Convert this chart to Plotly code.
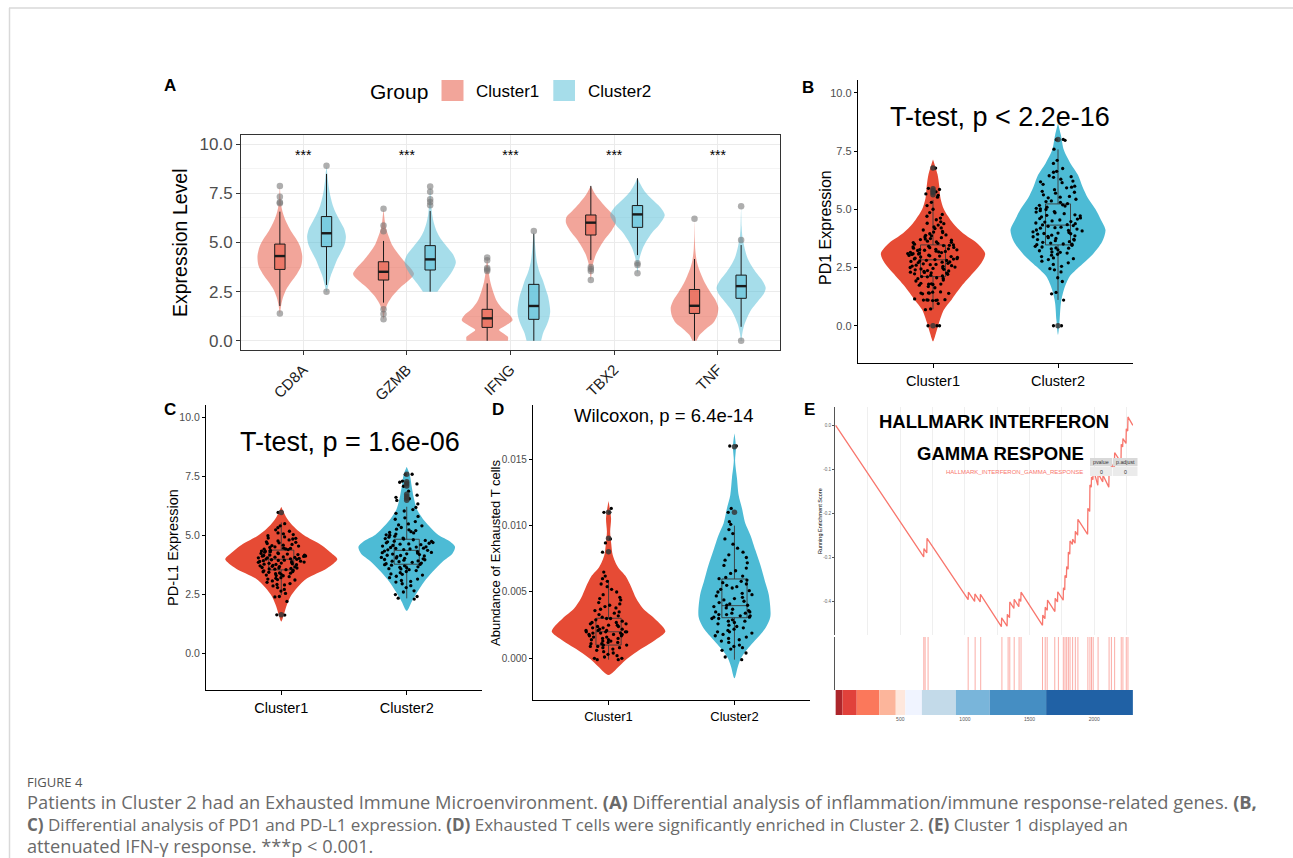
import plotly.graph_objects as go

W, H = 1293, 858
FONT = "Liberation Sans"

# ---------------- Panel A data ----------------
genes = ["CD8A", "GZMB", "IFNG", "TBX2", "TNF"]
clusters = ["Cluster1", "Cluster2"]

# violin density profiles (value levels, half-width in category units)
A_c1_prof_y = [
    [1.39, 1.8, 2.2, 2.6, 3.0, 3.4, 3.8, 4.3, 4.8, 5.2, 5.6, 6.0, 6.4, 6.8, 7.2, 7.88],
    [1.09, 1.5, 1.9, 2.3, 2.7, 3.1, 3.4, 3.7, 4.1, 4.5, 4.9, 5.3, 5.7, 6.1, 6.72],
    [0.0, 0.2, 0.4, 0.55, 0.75, 1.05, 1.3, 1.6, 2.0, 2.5, 3.0, 3.5, 4.24],
    [3.09, 3.6, 4.0, 4.4, 4.8, 5.2, 5.6, 6.0, 6.3, 6.6, 7.0, 7.4, 7.88],
    [0.0, 0.3, 0.6, 0.9, 1.3, 1.7, 2.1, 2.5, 2.9, 3.3, 3.7, 4.1, 4.6, 5.2, 6.21],
]
A_c1_prof_w = [
    [0.0, 0.012, 0.03, 0.06, 0.11, 0.165, 0.205, 0.216, 0.195, 0.155, 0.105, 0.065, 0.035, 0.016, 0.008, 0.0],
    [0.0, 0.012, 0.04, 0.09, 0.16, 0.25, 0.294, 0.26, 0.19, 0.13, 0.08, 0.05, 0.025, 0.012, 0.0],
    [0.2, 0.2, 0.15, 0.115, 0.17, 0.245, 0.22, 0.153, 0.095, 0.057, 0.03, 0.015, 0.0],
    [0.0, 0.01, 0.025, 0.05, 0.09, 0.14, 0.2, 0.24, 0.235, 0.18, 0.11, 0.05, 0.0],
    [0.02, 0.05, 0.11, 0.18, 0.22, 0.229, 0.2, 0.15, 0.105, 0.07, 0.04, 0.02, 0.008, 0.003, 0.0],
]
A_c2_prof_y = [
    [2.5, 2.9, 3.3, 3.7, 4.1, 4.5, 4.9, 5.3, 5.7, 6.1, 6.5, 6.9, 7.3, 7.7, 8.1, 8.5, 8.9],
    [2.5, 2.8, 3.2, 3.6, 4.0, 4.4, 4.8, 5.2, 5.6, 6.0, 6.4, 6.8, 7.3, 7.85],
    [0.0, 0.4, 0.8, 1.2, 1.5, 1.9, 2.3, 2.7, 3.1, 3.5, 4.0, 4.5, 5.0, 5.59],
    [3.43, 3.9, 4.3, 4.7, 5.1, 5.5, 5.9, 6.4, 6.8, 7.2, 7.6, 8.0, 8.3],
    [0.0, 0.4, 0.8, 1.2, 1.6, 2.0, 2.4, 2.7, 3.1, 3.5, 3.9, 4.3, 4.8, 5.3, 5.8, 6.84],
]
A_c2_prof_w = [
    [0.0, 0.02, 0.04, 0.07, 0.1, 0.14, 0.175, 0.187, 0.17, 0.13, 0.09, 0.06, 0.04, 0.025, 0.015, 0.008, 0.0],
    [0.07, 0.11, 0.17, 0.22, 0.248, 0.22, 0.16, 0.1, 0.06, 0.035, 0.02, 0.012, 0.006, 0.0],
    [0.07, 0.09, 0.125, 0.15, 0.158, 0.15, 0.135, 0.11, 0.085, 0.055, 0.03, 0.018, 0.01, 0.0],
    [0.0, 0.01, 0.025, 0.05, 0.09, 0.14, 0.21, 0.263, 0.22, 0.14, 0.07, 0.025, 0.0],
    [0.003, 0.012, 0.03, 0.06, 0.1, 0.16, 0.22, 0.237, 0.2, 0.14, 0.09, 0.055, 0.03, 0.012, 0.005, 0.0],
]
# box statistics
A_c1_q1 = [3.63, 3.09, 0.68, 5.38, 1.39]
A_c1_med = [4.31, 3.51, 1.14, 6.01, 1.78]
A_c1_q3 = [4.92, 4.02, 1.60, 6.40, 2.61]
A_c1_lo = [1.77, 1.94, 0.0, 4.11, 0.0]
A_c1_hi = [6.57, 5.08, 2.92, 7.88, 4.16]
A_c2_q1 = [4.79, 3.60, 1.09, 5.77, 2.16]
A_c2_med = [5.47, 4.14, 1.77, 6.43, 2.78]
A_c2_q3 = [6.32, 4.84, 2.87, 6.88, 3.34]
A_c2_lo = [2.84, 2.50, 0.0, 4.36, 0.71]
A_c2_hi = [8.49, 6.60, 5.45, 8.27, 4.87]
A_c1_out = [[1.39, 7.0, 7.05, 7.33, 7.88], [1.09, 1.36, 1.6, 5.57, 5.87, 6.72],
            [3.55, 3.62, 3.7, 4.1, 4.24], [3.09, 3.55, 3.65, 3.75], [6.21]]
A_c2_out = [[2.5, 8.9], [6.9, 7.06, 7.2, 7.58, 7.85], [5.59], [3.43, 3.85, 3.95], [0.0, 5.13, 6.84]]
A_sig_y = [9.37, 9.37, 9.37, 9.37, 9.37]
A_sig = ["***", "***", "***", "***", "***"]

# ---------------- Panels B, C, D data ----------------
B_c1_prof_y = [-0.67, -0.31, 0.11, 0.69, 1.11, 1.69, 2.26, 2.69, 3.1, 3.54, 3.97, 4.4, 5.0, 5.47, 6.0, 6.5, 7.14]
B_c1_prof_w = [0, 0.024, 0.047, 0.087, 0.147, 0.227, 0.32, 0.387, 0.417, 0.353, 0.24, 0.16, 0.087, 0.06, 0.05, 0.036, 0]
B_c2_prof_y = [-0.39, 0.26, 0.97, 1.54, 2.11, 2.54, 3.04, 3.61, 4.11, 4.54, 5.0, 5.47, 5.97, 6.47, 6.97, 7.54, 8.19, 8.69]
B_c2_prof_w = [0, 0.013, 0.023, 0.047, 0.093, 0.173, 0.273, 0.353, 0.38, 0.344, 0.3, 0.24, 0.196, 0.16, 0.1, 0.047, 0.023, 0]
B_box = dict(q1=[2.11, 3.47], med=[2.83, 4.32], q3=[3.47, 5.23], lo=[0.71, 1.11], hi=[5.40, 7.57])
B_c1_out = [0.0, 5.62, 5.72, 5.8, 5.88, 6.77]
B_c2_out = [0.0, 8.0]
B_c1 = [0.0, 0.0, 0.0, 0.69, 0.72, 0.95, 1.08, 1.1, 1.1, 1.11, 1.09, 1.12, 1.1, 1.37, 1.4, 1.41, 1.39, 1.44, 1.4,
        1.63, 1.68, 1.74, 1.77, 1.79, 1.8, 1.78, 1.92, 1.96, 2.03, 2.06, 2.1, 2.11, 2.14, 2.17, 2.21, 2.23, 2.27,
        2.29, 2.3, 2.33, 2.37, 2.4, 2.42, 2.44, 2.48, 2.5, 2.52, 2.56, 2.58, 2.6, 2.63, 2.66, 2.68, 2.71, 2.73,
        2.76, 2.78, 2.8, 2.81, 2.84, 2.86, 2.88, 2.9, 2.93, 2.95, 2.97, 3.0, 3.02, 3.03, 3.06, 3.08, 3.1, 3.12,
        3.14, 3.17, 3.19, 3.2, 3.23, 3.26, 3.28, 3.3, 3.33, 3.35, 3.38, 3.41, 3.44, 3.47, 3.5, 3.54, 3.57, 3.6,
        3.63, 3.67, 3.7, 3.74, 3.78, 3.81, 3.86, 3.9, 3.95, 4.0, 4.05, 4.11, 4.17, 4.24, 4.32, 4.4, 4.46, 4.55,
        4.62, 4.7, 4.86, 5.0, 5.16, 5.3, 5.52, 5.6, 5.66, 5.75, 5.85, 5.9, 6.77,
        1.15, 1.45, 1.82, 2.02, 2.26, 2.46, 2.62, 2.74, 2.87, 2.99, 3.09, 3.15, 3.24, 3.36, 3.45, 3.58, 3.72,
        3.88, 4.02, 4.2, 4.38, 4.78, 2.35, 2.55, 3.27]
B_c2 = [0.0, 0.0, 1.1, 1.37, 1.43, 1.9, 2.06, 2.31, 2.4, 2.55, 2.63, 2.7, 2.77, 2.84, 2.91, 2.97, 3.03, 3.07,
        3.12, 3.17, 3.22, 3.26, 3.3, 3.34, 3.38, 3.41, 3.45, 3.48, 3.51, 3.55, 3.58, 3.61, 3.65, 3.68, 3.71,
        3.75, 3.78, 3.82, 3.86, 3.89, 3.93, 3.96, 4.0, 4.03, 4.07, 4.11, 4.15, 4.19, 4.23, 4.27, 4.3, 4.34,
        4.38, 4.41, 4.45, 4.5, 4.54, 4.58, 4.63, 4.67, 4.72, 4.76, 4.81, 4.85, 4.9, 4.94, 4.99, 5.04, 5.09,
        5.14, 5.19, 5.24, 5.3, 5.36, 5.43, 5.49, 5.55, 5.62, 5.69, 5.77, 5.84, 5.92, 5.99, 6.07, 6.14, 6.21,
        6.29, 6.37, 6.44, 6.59, 6.75, 6.97, 7.1, 7.58, 7.96, 7.99, 8.0,
        2.45, 2.88, 3.15, 3.33, 3.5, 3.7, 3.84, 3.98, 4.09, 4.21, 4.33, 4.47, 4.6, 4.74, 4.88, 5.02, 5.17,
        5.33, 5.52, 5.73, 5.95, 6.18, 6.4, 6.63, 3.95]

C_c1_prof_y = [1.34, 1.63, 1.98, 2.4, 2.78, 3.18, 3.61, 3.99, 4.17, 4.6, 5.02, 5.45, 5.8, 6.22]
C_c1_prof_w = [0, 0.02, 0.04, 0.073, 0.126, 0.206, 0.365, 0.447, 0.418, 0.318, 0.179, 0.086, 0.037, 0]
C_c2_prof_y = [1.8, 2.19, 2.61, 3.04, 3.46, 3.89, 4.24, 4.52, 4.75, 5.02, 5.59, 6.08, 6.58, 7.07, 7.57, 7.92]
C_c2_prof_w = [0, 0.04, 0.086, 0.139, 0.206, 0.285, 0.365, 0.385, 0.345, 0.252, 0.146, 0.084, 0.057, 0.04, 0.025, 0]
C_box = dict(q1=[3.54, 3.78], med=[3.99, 4.37], q3=[4.38, 4.84], lo=[2.47, 2.33], hi=[5.55, 6.22])
C_c1_out = [1.63, 5.98]
C_c2_out = [6.5, 6.58, 6.65, 6.75, 7.1, 7.2, 7.28, 7.6]
C_c1 = [1.62, 1.63, 2.2, 2.39, 2.41, 2.54, 2.64, 2.71, 2.79, 2.86, 2.92, 2.96, 3.01, 3.07, 3.11, 3.15, 3.18,
        3.21, 3.25, 3.29, 3.32, 3.35, 3.38, 3.41, 3.44, 3.47, 3.5, 3.52, 3.55, 3.57, 3.6, 3.62, 3.64, 3.67,
        3.69, 3.71, 3.73, 3.76, 3.78, 3.8, 3.82, 3.83, 3.85, 3.87, 3.89, 3.91, 3.93, 3.95, 3.97, 3.99, 4.01,
        4.03, 4.05, 4.07, 4.09, 4.11, 4.13, 4.15, 4.17, 4.19, 4.21, 4.24, 4.26, 4.29, 4.31, 4.34, 4.37, 4.4,
        4.43, 4.46, 4.49, 4.52, 4.55, 4.59, 4.62, 4.66, 4.69, 4.73, 4.77, 4.81, 4.85, 4.89, 4.94, 4.99, 5.04,
        5.11, 5.18, 5.24, 5.33, 5.41, 5.5, 5.98,
        2.9, 3.13, 3.3, 3.46, 3.58, 3.68, 3.77, 3.86, 3.94, 4.0, 4.08, 4.16, 4.23, 4.33, 4.42, 4.57, 4.71,
        4.88, 5.07, 3.62, 3.9, 4.12, 4.45, 3.4, 4.05]
C_c2 = [2.3, 2.34, 2.41, 2.49, 2.65, 2.79, 2.87, 2.95, 3.02, 3.09, 3.15, 3.21, 3.27, 3.32, 3.37, 3.42, 3.47,
        3.51, 3.55, 3.59, 3.63, 3.67, 3.71, 3.74, 3.77, 3.8, 3.83, 3.86, 3.89, 3.92, 3.95, 3.98, 4.01, 4.04,
        4.07, 4.1, 4.13, 4.16, 4.19, 4.22, 4.25, 4.28, 4.31, 4.34, 4.37, 4.4, 4.43, 4.46, 4.49, 4.52, 4.55,
        4.58, 4.61, 4.64, 4.67, 4.7, 4.73, 4.76, 4.79, 4.82, 4.85, 4.89, 4.93, 4.97, 5.01, 5.06, 5.11, 5.16,
        5.21, 5.27, 5.34, 5.41, 5.49, 5.59, 5.69, 5.81, 5.94, 6.04, 6.19, 6.34, 6.49, 6.56, 6.62, 6.71, 6.88,
        7.09, 7.19, 7.26, 7.31, 7.59, 7.6,
        2.6, 3.05, 3.35, 3.58, 3.76, 3.91, 4.03, 4.15, 4.27, 4.39, 4.51, 4.63, 4.75, 4.87, 5.03, 5.24, 5.45,
        5.75, 6.1, 4.21, 4.45, 3.97, 4.69, 3.65, 5.13]

D_c1_prof_y = [-0.00126, -0.00063, 0.0, 0.0005, 0.00138, 0.002, 0.00238, 0.00301, 0.00377, 0.00452, 0.0054,
               0.00615, 0.0069, 0.00779, 0.00867, 0.00954, 0.01055, 0.01186]
D_c1_prof_w = [0, 0.08, 0.153, 0.225, 0.371, 0.451, 0.431, 0.365, 0.272, 0.219, 0.179, 0.139, 0.073, 0.033,
               0.021, 0.013, 0.02, 0]
D_c2_prof_y = [-0.00151, -0.00063, 0.0, 0.0005, 0.00138, 0.00226, 0.00314, 0.00477, 0.00577, 0.00703, 0.00816,
               0.0093, 0.01018, 0.0113, 0.01231, 0.01357, 0.0149, 0.01595, 0.01696]
D_c2_prof_w = [0, 0.027, 0.052, 0.086, 0.166, 0.245, 0.285, 0.273, 0.243, 0.206, 0.166, 0.126, 0.086, 0.06,
               0.033, 0.02, 0.005, 0.012, 0]
D_box = dict(q1=[0.001, 0.00306], med=[0.002, 0.00397], q3=[0.00302, 0.00598], lo=[-0.0001, -0.0001],
             hi=[0.0059, 0.0100])
D_c1_out = [0.00804, 0.00905, 0.011]
D_c2_out = [0.011, 0.01595]
D_c1 = [-0.0001, -0.0001, 0.0, 0.0, 0.0001, 0.0002, 0.0003, 0.0004, 0.0005, 0.0006, 0.0007, 0.0008, 0.0008,
        0.0009, 0.0009, 0.001, 0.001, 0.0011, 0.0011, 0.0012, 0.0012, 0.0013, 0.0013, 0.0014, 0.0014, 0.0015,
        0.0015, 0.0016, 0.0016, 0.0017, 0.0017, 0.0018, 0.0018, 0.0018, 0.0019, 0.0019, 0.0019, 0.002, 0.002,
        0.002, 0.002, 0.0021, 0.0021, 0.0021, 0.0022, 0.0022, 0.0023, 0.0023, 0.0024, 0.0024, 0.0025, 0.0025,
        0.0026, 0.0026, 0.0027, 0.0027, 0.0028, 0.0029, 0.003, 0.003, 0.0031, 0.0032, 0.0033, 0.0034, 0.0035,
        0.0036, 0.0037, 0.0038, 0.0039, 0.004, 0.0041, 0.0042, 0.0044, 0.0045, 0.0046, 0.0048, 0.005, 0.0052,
        0.0054, 0.0056, 0.0058, 0.006, 0.0062, 0.0065, 0.008, 0.0087, 0.009, 0.011, 0.011, 0.0113]
D_c2 = [-0.0001, 0.0001, 0.0004, 0.0006, 0.0007, 0.0008, 0.0009, 0.001, 0.0012, 0.0013, 0.0014, 0.0015, 0.0016,
        0.0017, 0.0018, 0.0019, 0.002, 0.002, 0.0021, 0.0022, 0.0023, 0.0024, 0.0025, 0.0026, 0.0027, 0.0028,
        0.0028, 0.0029, 0.003, 0.003, 0.0031, 0.0031, 0.0032, 0.0032, 0.0033, 0.0033, 0.0034, 0.0034, 0.0035,
        0.0035, 0.0036, 0.0037, 0.0038, 0.0039, 0.004, 0.004, 0.0041, 0.0042, 0.0043, 0.0044, 0.0045, 0.0046,
        0.0047, 0.0048, 0.0049, 0.005, 0.0051, 0.0052, 0.0053, 0.0054, 0.0055, 0.0056, 0.0057, 0.0058, 0.0059,
        0.006, 0.0061, 0.0062, 0.0064, 0.0066, 0.0068, 0.007, 0.0072, 0.0074, 0.0076, 0.0078, 0.008, 0.0083,
        0.0086, 0.009, 0.0094, 0.0097, 0.0101, 0.0103, 0.011, 0.0113, 0.016, 0.016]

# ---------------- Panel E data ----------------
ES_rank = [0, 681, 683, 705, 707, 1025, 1027, 1075, 1077, 1118, 1120, 1282, 1284, 1326, 1328, 1345, 1347,
           1379, 1381, 1417, 1419, 1432, 1434, 1600, 1602, 1619, 1621, 1637, 1639, 1696, 1698, 1716, 1718,
           1760, 1762, 1772, 1774, 1785, 1787, 1798, 1800, 1811, 1813, 1831, 1833, 1852, 1854, 1872, 1874,
           1949, 1951, 1965, 1967, 1977, 1979, 1990, 1992, 2028, 2030, 2066, 2068, 2113, 2115, 2131, 2133,
           2156, 2158, 2207, 2209, 2220, 2222, 2246, 2248, 2259, 2261, 2299]
ES_val = [0.0, -0.298, -0.279, -0.289, -0.256, -0.395, -0.378, -0.399, -0.382, -0.400, -0.383, -0.456, -0.436,
          -0.455, -0.428, -0.436, -0.400, -0.415, -0.394, -0.411, -0.393, -0.399, -0.378, -0.453, -0.430,
          -0.438, -0.412, -0.419, -0.396, -0.422, -0.392, -0.400, -0.377, -0.396, -0.368, -0.373, -0.340,
          -0.345, -0.320, -0.326, -0.287, -0.292, -0.262, -0.270, -0.258, -0.267, -0.240, -0.249, -0.213,
          -0.247, -0.188, -0.195, -0.135, -0.140, -0.117, -0.123, -0.098, -0.136, -0.109, -0.128, -0.113,
          -0.140, -0.106, -0.112, -0.087, -0.099, -0.062, -0.084, -0.043, -0.049, -0.030, -0.041, -0.008,
          -0.013, 0.019, 0.0]
hits = [682, 692, 715, 1025, 1079, 1122, 1286, 1334, 1347, 1381, 1419, 1434, 1600, 1621, 1636, 1695, 1723,
        1761, 1774, 1787, 1800, 1813, 1833, 1854, 1874, 1951, 1967, 1979, 1992, 2030, 2115, 2133, 2158, 2209,
        2222, 2248, 2261]
rank_bounds = [0, 53, 163, 337, 465, 539, 667, 930, 1191, 1628, 2299]
rank_colors = ["#A50F15", "#DE2D26", "#FB6A4A", "#FCAE91", "#FEE5D9", "#EFF3FF", "#BDD7E7", "#6BAED6",
               "#3182BD", "#08519C"]
E_ticks = [500, 1000, 1500, 2000]
E_yticks = [0.0, -0.1, -0.2, -0.3, -0.4]

# ---------------- styling ----------------
VIOL_A = ["rgba(230,75,53,0.5)", "rgba(77,187,213,0.5)"]
BOX_A = ["rgba(230,75,53,0.5)", "rgba(77,187,213,0.5)"]
SOLID = ["#E64B35", "#4DBBD5"]
DODGE = 0.225

fig = go.Figure()


def xd(a, b):
    return [a / W, b / W]


def yd(top, bottom):
    return [1 - bottom / H, 1 - top / H]


def poly(pos, ys, ws):
    xs = [pos + w for w in ws] + [pos - w for w in reversed(ws)]
    yy = list(ys) + list(reversed(ys))
    return xs, yy


def add_violin(pos, ys, ws, color, xa, ya):
    xs, yy = poly(pos, ys, ws)
    fig.add_trace(go.Scatter(x=xs, y=yy, mode="lines", fill="toself", fillcolor=color,
                             line=dict(width=0, shape="spline", smoothing=0.8, color=color),
                             xaxis=xa, yaxis=ya, hoverinfo="skip"))


# ---- Panel A (violins on x/y, boxes on overlay x11/y11) ----
profs_y = [A_c1_prof_y, A_c2_prof_y]
profs_w = [A_c1_prof_w, A_c2_prof_w]
stats = [(A_c1_q1, A_c1_med, A_c1_q3, A_c1_lo, A_c1_hi), (A_c2_q1, A_c2_med, A_c2_q3, A_c2_lo, A_c2_hi)]
outs = [A_c1_out, A_c2_out]
for i in range(len(genes)):
    for k in range(2):
        pos = i + (-DODGE if k == 0 else DODGE)
        add_violin(pos, profs_y[k][i], profs_w[k][i], VIOL_A[k], "x", "y")
for k in range(2):
    offs = -DODGE if k == 0 else DODGE
    pos = [i + offs for i in range(len(genes))]
    q1, med, q3, lo, hi = stats[k]
    ox, oy = [], []
    for p, vals in zip(pos, outs[k]):
        ox += [p] * len(vals)
        oy += vals
    fig.add_trace(go.Scatter(x=ox, y=oy, mode="markers",
                             marker=dict(color="rgba(120,120,120,0.6)", size=6.5),
                             xaxis="x11", yaxis="y11", hoverinfo="skip"))
    fig.add_trace(go.Box(x=pos, q1=q1, median=med, q3=q3, lowerfence=lo, upperfence=hi, width=0.1,
                         fillcolor=BOX_A[k], line=dict(color="#1a1a1a", width=1), whiskerwidth=0,
                         boxpoints=False, xaxis="x11", yaxis="y11", hoverinfo="skip"))
    mx, my = [], []
    for p, m in zip(pos, med):
        mx += [p - 0.05, p + 0.05, None]
        my += [m, m, None]
    fig.add_trace(go.Scatter(x=mx, y=my, mode="lines", line=dict(color="#1a1a1a", width=2.4),
                             xaxis="x11", yaxis="y11", hoverinfo="skip"))
fig.add_trace(go.Scatter(x=list(range(len(genes))), y=A_sig_y, mode="text", text=A_sig,
                         textfont=dict(size=14, color="black", family=FONT), xaxis="x11", yaxis="y11"))


# ---- Panels B, C, D ----
def two_group_panel(xa, ya, oxa, oya, p1y, p1w, p2y, p2w, box, out1, out2, s1, s2):
    add_violin(0, p1y, p1w, SOLID[0], xa, ya)
    add_violin(1, p2y, p2w, SOLID[1], xa, ya)
    fig.add_trace(go.Box(x=[0, 1], q1=box["q1"], median=box["med"], q3=box["q3"], lowerfence=box["lo"],
                         upperfence=box["hi"], width=0.2, fillcolor="rgba(0,0,0,0)",
                         line=dict(color="#3a3a3a", width=0.9), whiskerwidth=0, boxpoints=False,
                         xaxis=oxa, yaxis=oya, hoverinfo="skip"))
    for pos, vals in ((0, s1), (1, s2)):
        fig.add_trace(go.Box(x=[pos] * len(vals), y=vals, boxpoints="all", jitter=1, pointpos=0, width=0.42,
                             fillcolor="rgba(0,0,0,0)", line=dict(width=0, color="rgba(0,0,0,0)"),
                             marker=dict(color="black", size=3.3), xaxis=oxa, yaxis=oya, hoverinfo="skip"))
    for pos, vals in ((0, out1), (1, out2)):
        fig.add_trace(go.Scatter(x=[pos] * len(vals), y=vals, mode="markers",
                                 marker=dict(color="rgba(55,55,55,0.85)", size=5.5),
                                 xaxis=oxa, yaxis=oya, hoverinfo="skip"))


two_group_panel("x2", "y2", "x8", "y8", B_c1_prof_y, B_c1_prof_w, B_c2_prof_y, B_c2_prof_w, B_box,
                B_c1_out, B_c2_out, B_c1, B_c2)
two_group_panel("x3", "y3", "x9", "y9", C_c1_prof_y, C_c1_prof_w, C_c2_prof_y, C_c2_prof_w, C_box,
                C_c1_out, C_c2_out, C_c1, C_c2)
two_group_panel("x4", "y4", "x10", "y10", D_c1_prof_y, D_c1_prof_w, D_c2_prof_y, D_c2_prof_w, D_box,
                D_c1_out, D_c2_out, D_c1, D_c2)

# ---- Panel E ----
fig.add_trace(go.Scatter(x=ES_rank, y=ES_val, mode="lines", line=dict(color="#F8766D", width=1.3),
                         xaxis="x5", yaxis="y5", hoverinfo="skip"))
hx, hy = [], []
for h in hits:
    hx += [h, h, None]
    hy += [0, 1, None]
fig.add_trace(go.Scatter(x=hx, y=hy, mode="lines", line=dict(color="rgba(248,118,109,0.6)", width=1),
                         xaxis="x6", yaxis="y6", hoverinfo="skip"))
centers = [(a + b) / 2 for a, b in zip(rank_bounds[:-1], rank_bounds[1:])]
widths = [b - a for a, b in zip(rank_bounds[:-1], rank_bounds[1:])]
fig.add_trace(go.Bar(x=centers, y=[1] * len(centers), width=widths, marker=dict(color=rank_colors, line_width=0),
                     opacity=0.9, xaxis="x7", yaxis="y7", hoverinfo="skip"))

# ---------------- axes ----------------
lay = dict(
    width=W, height=H, margin=dict(l=0, r=0, t=0, b=0), paper_bgcolor="white", plot_bgcolor="rgba(0,0,0,0)",
    showlegend=False, font=dict(family=FONT), boxmode="overlay",
)
A_XR = [-0.6, 4.6]
A_YR = [-0.47, 10.47]
lay["xaxis"] = dict(domain=xd(241, 780), range=A_XR, tickvals=list(range(5)), ticktext=genes,
                    tickangle=-45, tickfont=dict(size=15, color="#1a1a1a"), ticks="outside", ticklen=4,
                    tickcolor="#333", showline=True, mirror=True, linecolor="#333", linewidth=1,
                    showgrid=True, gridcolor="#EBEBEB", gridwidth=1.1, zeroline=False, anchor="y")
lay["yaxis"] = dict(domain=yd(135, 350), range=A_YR, tickvals=[0, 2.5, 5, 7.5, 10],
                    ticktext=["0.0", "2.5", "5.0", "7.5", "10.0"], tickfont=dict(size=17, color="#4D4D4D"),
                    ticks="outside", ticklen=4, tickcolor="#333", showline=True, mirror=True, linecolor="#333",
                    linewidth=1, showgrid=True, gridcolor="#EBEBEB", gridwidth=1.1, zeroline=False, anchor="x",
                    minor=dict(tickvals=[1.25, 3.75, 6.25, 8.75], showgrid=True, gridcolor="#F4F4F4",
                               gridwidth=0.6, ticks=""))
lay["xaxis11"] = dict(overlaying="x", range=A_XR, visible=False, anchor="y11")
lay["yaxis11"] = dict(overlaying="y", range=A_YR, visible=False, anchor="x11")


def classic_x(dom, anchor, size):
    return dict(domain=dom, range=[-0.6, 1.6], tickvals=[0, 1], ticktext=clusters,
                tickfont=dict(size=size, color="black"), ticks="outside", ticklen=4, tickcolor="black",
                showline=True, linecolor="black", linewidth=1.3, showgrid=False, zeroline=False, anchor=anchor)


def classic_y(dom, anchor, rng, tv, tt, size=10.5):
    return dict(domain=dom, range=rng, tickvals=tv, ticktext=tt, tickfont=dict(size=size, color="#4D4D4D"),
                ticks="outside", ticklen=3, tickcolor="black", showline=True, linecolor="black",
                linewidth=1.3, showgrid=False, zeroline=False, anchor=anchor)


t10 = [0, 2.5, 5, 7.5, 10]
t10s = ["0.0", "2.5", "5.0", "7.5", "10.0"]
B_YR = [-1.6, 10.55]
C_YR = [-1.56, 10.54]
D_YR = [-0.00314, 0.01909]
lay["xaxis2"] = classic_x(xd(858, 1133), "y2", 14.5)
lay["yaxis2"] = classic_y(yd(80, 363), "x2", B_YR, t10, t10s, 11)
lay["xaxis3"] = classic_x(xd(206, 482), "y3", 14.5)
lay["yaxis3"] = classic_y(yd(405, 690), "x3", C_YR, t10, t10s, 10.5)
lay["xaxis4"] = classic_x(xd(533, 810), "y4", 13)
lay["yaxis4"] = classic_y(yd(405, 700), "x4", D_YR, [0, 0.005, 0.01, 0.015],
                          ["0.000", "0.005", "0.010", "0.015"], 10)
for ox, oy, base, yr in (("xaxis8", "yaxis8", "2", B_YR), ("xaxis9", "yaxis9", "3", C_YR),
                         ("xaxis10", "yaxis10", "4", D_YR)):
    lay[ox] = dict(overlaying="x" + base, range=[-0.6, 1.6], visible=False, anchor=oy.replace("axis", ""))
    lay[oy] = dict(overlaying="y" + base, range=yr, visible=False, anchor=ox.replace("axis", ""))

ERANGE = [-5, 2300]
lay["xaxis5"] = dict(domain=xd(835, 1133), range=ERANGE, tickvals=[250 * i for i in range(1, 10)],
                     showticklabels=False, ticks="", showgrid=True, gridcolor="#EFEFEF", gridwidth=1,
                     zeroline=False, showline=False, anchor="y5")
lay["yaxis5"] = dict(domain=yd(407, 635), range=[-0.475, 0.0415], tickvals=E_yticks,
                     ticktext=["0.0", "-0.1", "-0.2", "-0.3", "-0.4"], tickfont=dict(size=4.5, color="#666"),
                     ticks="outside", ticklen=2, tickcolor="#555", showline=True, linecolor="#555",
                     linewidth=1, showgrid=False, zeroline=False, anchor="x5")
lay["xaxis6"] = dict(domain=xd(835, 1133), range=ERANGE, visible=False, anchor="y6")
lay["yaxis6"] = dict(domain=yd(637, 690), range=[0, 1], showticklabels=False, ticks="", showline=True,
                     linecolor="#555", linewidth=1, showgrid=False, zeroline=False, anchor="x6")
lay["xaxis7"] = dict(domain=xd(835, 1133), range=ERANGE, tickvals=E_ticks, tickfont=dict(size=5, color="#555"),
                     ticks="", showline=False, showgrid=False, zeroline=False, anchor="y7")
lay["yaxis7"] = dict(domain=yd(690, 715), range=[0, 1], visible=False, anchor="x7")
fig.update_layout(**lay)


# ---------------- text ----------------
def ann(xp, yp, text, size, color="black", xanchor="center", yanchor="middle", angle=0, family=FONT,
        align="center"):
    fig.add_annotation(x=xp / W, y=1 - yp / H, xref="paper", yref="paper", text=text, showarrow=False,
                       font=dict(size=size, color=color, family=family), xanchor=xanchor, yanchor=yanchor,
                       textangle=angle, borderpad=0, align=align)


for lab, xp, yp in (("A", 170, 85), ("B", 808, 88), ("C", 170, 410), ("D", 498, 410), ("E", 809, 410)):
    ann(xp, yp, "<b>%s</b>" % lab, 17)

# panel A legend
ann(369, 91, "Group", 21, xanchor="left")
ann(475, 91, "Cluster1", 17, xanchor="left")
ann(587, 91, "Cluster2", 17, xanchor="left")
for (x0, x1), col in (((441.5, 463.5), "#F2A59A"), ((553.3, 575), "#A6DDEA")):
    fig.add_shape(type="rect", xref="paper", yref="paper", x0=x0 / W, x1=x1 / W, y0=1 - 101 / H, y1=1 - 80 / H,
                  fillcolor=col, line=dict(width=0))

ann(180, 243, "Expression Level", 19.5, angle=-90)
ann(825, 228, "PD1 Expression", 16, angle=-90)
ann(173, 548, "PD-L1 Expression", 14.5, angle=-90)
ann(495, 553, "Abundance of Exhausted T cells", 13, angle=-90)
ann(1000, 117, "T-test, p &lt; 2.2e-16", 27)
ann(350, 442, "T-test, p = 1.6e-06", 27)
ann(663, 415, "Wilcoxon, p = 6.4e-14", 18.5)

# panel E text
ann(994, 421, "<b>HALLMARK INTERFERON</b>", 18.5)
ann(1000, 453, "<b>GAMMA RESPONE</b>", 18.5)
ann(1084, 472, "HALLMARK_INTERFERON_GAMMA_RESPONSE", 6, color="#F8766D", xanchor="right")
ann(820, 521, "Running Enrichment Score", 5.5, angle=-90)
for (x0, x1) in ((1090, 1112.3), (1113, 1137.5)):
    fig.add_shape(type="rect", xref="paper", yref="paper", x0=x0 / W, x1=x1 / W, y0=1 - 466.3 / H,
                  y1=1 - 458 / H, fillcolor="#D9D9D9", line=dict(width=0))
    fig.add_shape(type="rect", xref="paper", yref="paper", x0=x0 / W, x1=x1 / W, y0=1 - 476 / H,
                  y1=1 - 467 / H, fillcolor="#EBEBEB", line=dict(width=0))
ann(1101.2, 462.3, "pvalue", 5.3, color="#333")
ann(1125.2, 462.3, "p.adjust", 5.3, color="#333")
ann(1101.2, 471.5, "0", 5.3, color="#333")
ann(1125.2, 471.5, "0", 5.3, color="#333")

# page frame
fig.add_shape(type="line", xref="paper", yref="paper", x0=9 / W, x1=1.0, y0=1 - 8 / H, y1=1 - 8 / H,
              line=dict(color="#D9D9D9", width=1.5))
fig.add_shape(type="line", xref="paper", yref="paper", x0=9.5 / W, x1=9.5 / W, y0=0, y1=1 - 8 / H,
              line=dict(color="#D9D9D9", width=1.5))

# caption (one multi-line text block)
caption = (
    '<span style="font-size:13px;color:#555555">FIGURE 4</span><br>'
    '<span style="font-size:18.3px">Patients in Cluster 2 had an Exhausted Immune Microenvironment. '
    '<b>(A)</b> Differential analysis of inflammation/immune response-related genes. <b>(B,</b></span><br>'
    '<span style="font-size:17px"><b>C)</b> Differential analysis of PD1 and PD-L1 expression. <b>(D)</b> '
    'Exhausted T cells were significantly enriched in Cluster 2. <b>(E)</b> Cluster 1 displayed an</span><br>'
    '<span style="font-size:18.2px">attenuated IFN-γ response. ***p &lt; 0.001.</span>'
)
ann(26, 815, caption, 17, color="#6a6a6a", xanchor="left", family="Open Sans", align="left")

fig.write_html("out.html")
